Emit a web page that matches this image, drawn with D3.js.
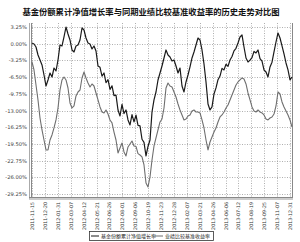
<!DOCTYPE html>
<html><head><meta charset="utf-8">
<script src="https://cdn.jsdelivr.net/npm/d3@7/dist/d3.min.js"></script>
<style>body{margin:0;background:#fff}svg{display:block}</style>
</head><body><svg id="c" width="300" height="242"></svg>
<script>
const title = "基金份额累计净值增长率与同期业绩比较基准收益率的历史走势对比图";
const seriesNames = ["基金份额累计净值增长率", "业绩比较基准收益率"];
const yTicks = [3.25, 0, -3.25, -6.5, -9.75, -13, -16.25, -19.5, -22.75, -26, -29.25];
const xLabels = ["2011-11-15","2011-12-20","2012-01-31","2012-03-07","2012-04-12","2012-05-21","2012-06-26","2012-08-01","2012-09-06","2012-10-19","2012-11-23","2012-12-28","2013-02-07","2013-03-21","2013-04-26","2013-06-06","2013-07-12","2013-08-19","2013-09-25","2013-11-07","2013-12-31"];
const fundValues = [0.14,-0.05,-0.64,-2.20,-3.17,-4.14,-6.09,-8.23,-7.06,-5.70,-6.48,-4.73,-5.31,-3.17,-0.25,-0.44,1.31,3.25,1.89,0.72,-1.22,-1.61,-0.44,-0.25,0.72,3.06,2.67,1.11,0.14,-0.05,-1.03,-0.44,-1.42,-4.34,-4.60,-6.30,-5.70,-7.60,-7.00,-8.90,-8.20,-10.10,-10.00,-12.90,-14.07,-11.80,-13.60,-12.90,-14.84,-15.82,-13.80,-15.20,-13.90,-15.90,-16.00,-18.60,-19.20,-21.85,-20.00,-18.74,-13.29,-10.95,-9.40,-7.06,-5.70,-4.34,-2.78,-1.22,-2.20,-2.58,-3.36,-3.17,-4.34,-5.70,-4.73,-8.23,-9.40,-7.45,-6.09,-4.53,-2.78,-1.61,-0.25,1.11,0.72,-1.22,-3.95,-7.45,-11.73,-12.90,-12.31,-9.78,-8.60,-7.00,-6.30,-4.80,-5.10,-4.00,-4.40,-3.17,-2.50,-1.40,-0.90,0.14,1.31,1.70,-0.64,-2.78,-3.56,-3.20,-2.70,-1.50,-1.80,-1.22,-2.90,-3.40,-5.11,-5.50,-6.48,-4.53,-3.60,-1.61,0.33,2.09,1.11,-0.44,-2.00,-3.75,-5.11,-7.06,-6.48];
const benchValues = [-3.56,-5.11,-8.03,-10.95,-14.46,-16.79,-18.74,-20.68,-20.68,-18.74,-17.76,-16.40,-14.84,-12.51,-9.01,-7.06,-6.48,-7.06,-8.62,-11.54,-12.51,-12.12,-10.17,-9.40,-9.01,-6.67,-5.50,-6.67,-7.64,-8.42,-7.84,-8.23,-9.59,-10.95,-12.31,-13.29,-13.48,-12.90,-13.68,-14.84,-15.40,-17.20,-18.74,-21.27,-20.29,-19.32,-21.07,-21.85,-20.10,-19.51,-18.93,-19.90,-20.00,-21.40,-21.66,-22.04,-23.60,-27.10,-27.88,-25.94,-22.63,-19.90,-18.35,-16.79,-15.23,-14.65,-12.51,-8.62,-7.64,-8.23,-8.42,-9.40,-10.37,-11.73,-12.90,-13.87,-14.84,-14.65,-14.07,-13.87,-13.09,-12.90,-13.29,-13.29,-13.48,-14.84,-16.40,-18.74,-20.68,-19.13,-18.15,-17.18,-16.40,-15.23,-14.26,-13.87,-13.29,-12.51,-11.93,-10.95,-9.98,-9.01,-8.03,-7.45,-7.06,-6.67,-6.87,-7.84,-9.59,-10.95,-12.31,-13.09,-13.29,-12.90,-13.29,-13.48,-13.87,-14.65,-14.84,-14.46,-14.26,-13.68,-12.12,-9.40,-9.79,-11.34,-12.31,-13.09,-13.87,-14.84,-16.21];

const svg = d3.select("#c");
const L = 32, R = 292, T = 23, B = 197;
const y = d3.scaleLinear().domain([3.25, -29.25]).range([27, 194]);
const xPos = d3.scaleLinear().domain([0, xLabels.length - 1]).range([L, 290]);

svg.append("text").attr("x", 151).attr("y", 15).attr("text-anchor", "middle")
  .attr("font-family", "Noto Sans CJK SC").attr("font-weight", "bold").attr("font-size", 8.3)
  .attr("fill", "#111").text(title);

const g = svg.append("g");
g.selectAll("line.h").data(yTicks).join("line")
  .attr("x1", L).attr("x2", R).attr("y1", d => Math.round(y(d)) + 0.5).attr("y2", d => Math.round(y(d)) + 0.5)
  .attr("stroke", "#9a9a9a").attr("stroke-width", 0.8).attr("stroke-dasharray", "1,1.5");
g.selectAll("line.v").data(xLabels).join("line")
  .attr("x1", (d, i) => Math.round(xPos(i)) + 0.5).attr("x2", (d, i) => Math.round(xPos(i)) + 0.5)
  .attr("y1", T).attr("y2", B)
  .attr("stroke", "#9a9a9a").attr("stroke-width", 0.8).attr("stroke-dasharray", "1,1.5");

svg.append("line").attr("x1", 29.5).attr("x2", 29.5).attr("y1", T).attr("y2", B + 2).attr("stroke", "#aaa").attr("stroke-width", 1);
svg.append("line").attr("x1", 31.5).attr("x2", 31.5).attr("y1", T).attr("y2", B).attr("stroke", "#888").attr("stroke-width", 1);
svg.append("line").attr("x1", R + 0.5).attr("x2", R + 0.5).attr("y1", T).attr("y2", B).attr("stroke", "#888").attr("stroke-width", 1);
svg.append("line").attr("x1", 29).attr("x2", R + 1).attr("y1", B + 0.5).attr("y2", B + 0.5).attr("stroke", "#888").attr("stroke-width", 1);
svg.append("line").attr("x1", 29).attr("x2", R + 1).attr("y1", B + 2).attr("y2", B + 2).attr("stroke", "#bbb").attr("stroke-width", 1.5);

const fmt = d => d.toFixed(2) + "%";
svg.append("g").selectAll("text").data(yTicks).join("text")
  .attr("x", 27).attr("y", d => y(d) + 2).attr("text-anchor", "end")
  .attr("font-family", "DejaVu Sans").attr("font-size", 5.2).attr("fill", "#444").text(fmt);

svg.append("g").selectAll("text").data(xLabels).join("text")
  .attr("transform", (d, i) => `translate(${xPos(i) + 2},${B + 5}) rotate(-90)`)
  .attr("text-anchor", "end").attr("font-family", "DejaVu Sans").attr("font-size", 4.8)
  .attr("fill", "#333").text(d => d);

function draw(vals, color, w) {
  const xs = d3.scaleLinear().domain([0, vals.length - 1]).range([L, R]);
  svg.append("path").datum(vals)
    .attr("d", d3.line().x((d, i) => xs(i)).y(d => y(d)))
    .attr("fill", "none").attr("stroke", color).attr("stroke-width", w).attr("stroke-linejoin", "round");
}
draw(benchValues, "#6e6e6e", 1.1);
draw(fundValues, "#1a1a1a", 1.2);

const lg = svg.append("g");
lg.append("rect").attr("x", 89.5).attr("y", 231.5).attr("width", 124).attr("height", 9)
  .attr("fill", "#fff").attr("stroke", "#333").attr("stroke-width", 0.8);
const items = [{name: seriesNames[0], color: "#1a1a1a", x: 91}, {name: seriesNames[1], color: "#6e6e6e", x: 155}];
items.forEach(it => {
  lg.append("line").attr("x1", it.x).attr("x2", it.x + 8).attr("y1", 236).attr("y2", 236).attr("stroke", it.color).attr("stroke-width", 1);
  lg.append("text").attr("x", it.x + 10).attr("y", 238).attr("font-family", "Noto Sans CJK SC")
    .attr("font-size", 5).attr("fill", "#222").text(it.name);
});
</script></body></html>
